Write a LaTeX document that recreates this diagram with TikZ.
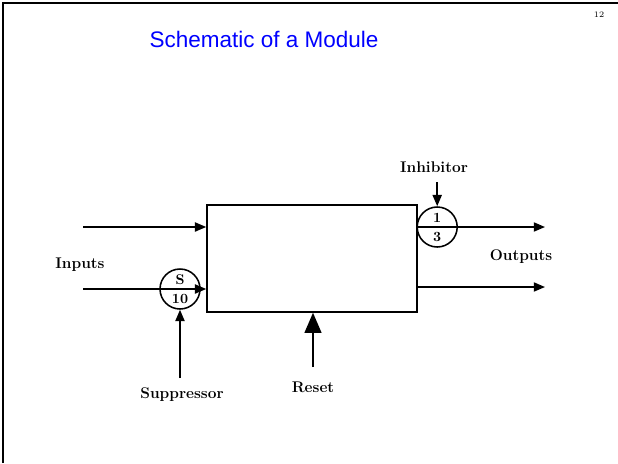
\documentclass[tikz,border=0pt]{standalone}
\usepackage{fontspec}
\newfontfamily\titlefont{Liberation Sans}
\usetikzlibrary{positioning, arrows.meta}

\begin{document}
\begin{tikzpicture}[
    wire/.style={line width=1.1pt, -{Triangle[length=8pt, width=6.5pt]}},
    lbl/.style={font=\bfseries\fontsize{11}{13}\selectfont},
    gate/.style={circle, draw=black, line width=1.1pt, minimum size=1.0cm, inner sep=0pt},
    gatetxt/.style={font=\bfseries\fontsize{10}{11}\selectfont, inner sep=0pt}
]
\useasboundingbox (0,0) rectangle (15.45,-11.575);

% Slide frame and header
\draw[line width=2pt] (0.075,-11.575) -- (0.075,-0.075) -- (15.45,-0.075);
\node[font=\titlefont\fontsize{16}{19}\selectfont, text=blue] (title) at (6.6,-0.975) {Schematic of a Module};
\node[font=\fontsize{6}{7}\selectfont] (page) at (14.975,-0.375) {12};

% Module
\node[rectangle, draw=black, line width=1.1pt, minimum width=5.25cm,
      minimum height=2.675cm] (module) at (7.8,-6.4625) {};

% Gates
\node[gate] (supp) at (4.5,-7.225) {};
\node[gate] (inhib) at (10.93,-5.675) {};
\node[gatetxt] (suppS) at ([yshift=0.24cm]supp.center) {S};
\node[gatetxt] (supp10) at ([yshift=-0.24cm]supp.center) {10};
\node[gatetxt] (inhib1) at ([yshift=0.24cm]inhib.center) {1};
\node[gatetxt] (inhib3) at ([yshift=-0.24cm]inhib.center) {3};

% Free ends
\coordinate (in1) at (2.075,-5.675);
\coordinate (in2) at (2.075,-7.225);
\coordinate (out1) at (13.625,-5.675);
\coordinate (out2) at (13.625,-7.175);
\coordinate (supsrc) at (4.5,-9.45);
\coordinate (inhsrc) at (10.93,-4.55);
\coordinate (rstsrc) at (7.825,-9.175);

% Arrows
\draw[wire] (in1) -- (module.west |- in1);
\draw[wire] (in2) -- (module.west |- in2);
\draw[wire] (supsrc) -- (supp.south);
\draw[wire] (module.east |- inhib) -- (out1);
\draw[wire] (inhsrc) -- (inhib.north);
\draw[wire] (module.east |- out2) -- (out2);
\draw[line width=1.1pt, -{Triangle[length=0.5cm, width=0.42cm]}] (rstsrc) -- (module.south -| rstsrc);

% Labels
\node[lbl] (inputs) at (2.0,-6.625) {Inputs};
\node[lbl] (outputs) at (13.025,-6.425) {Outputs};
\node[lbl] (suppressor) at (4.55,-9.875) {Suppressor};
\node[lbl] (reset) at (7.825,-9.675) {Reset};
\node[lbl] (inhibitor) at (10.85,-4.175) {Inhibitor};

\end{tikzpicture}
\end{document}
